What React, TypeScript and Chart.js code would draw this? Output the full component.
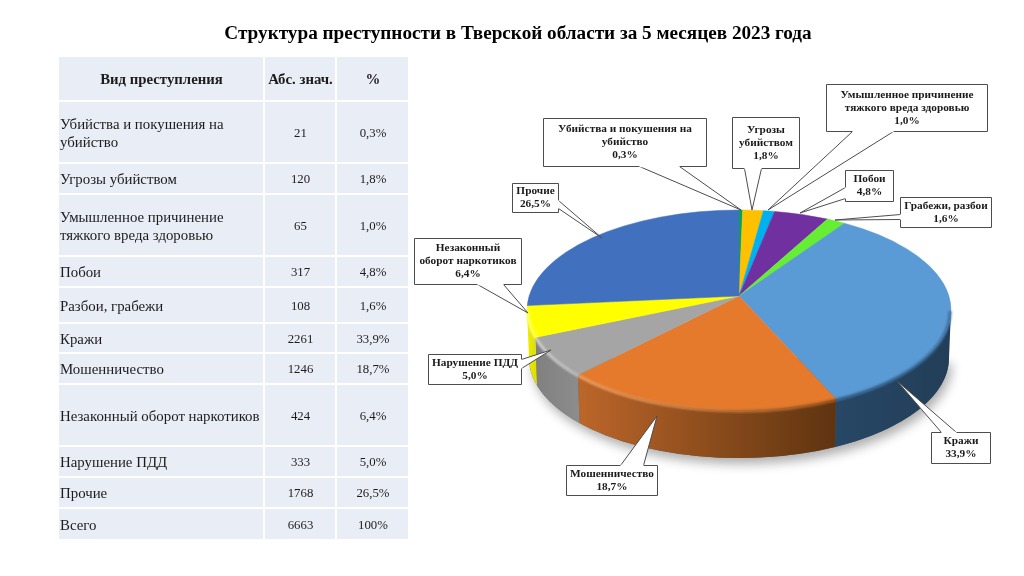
import React, { useEffect, useRef } from "react";
import { Chart, registerables } from "chart.js";

Chart.register(...registerables);

const TITLE = "Структура преступности в Тверской области за 5 месяцев 2023 года";
const TABLE_HEAD = ["Вид преступления", "Абс. знач.", "%"];
const crimeNames = [
  "Убийства и покушения на убийство",
  "Угрозы убийством",
  "Умышленное причинение тяжкого вреда здоровью",
  "Побои",
  "Разбои, грабежи",
  "Кражи",
  "Мошенничество",
  "Незаконный оборот наркотиков",
  "Нарушение ПДД",
  "Прочие",
  "Всего",
];
const crimeCounts = [21, 120, 65, 317, 108, 2261, 1246, 424, 333, 1768, 6663];
const crimeShares = ["0,3%", "1,8%", "1,0%", "4,8%", "1,6%", "33,9%", "18,7%", "6,4%", "5,0%", "26,5%", "100%"];

const sliceLabels = [
  ["Убийства и покушения на", "убийство"],
  ["Угрозы", "убийством"],
  ["Умышленное причинение", "тяжкого вреда здоровью"],
  ["Побои"],
  ["Грабежи, разбои"],
  ["Кражи"],
  ["Мошенничество"],
  ["Незаконный", "оборот наркотиков"],
  ["Нарушение ПДД"],
  ["Прочие"],
];
const sliceValues = [21, 120, 65, 317, 108, 2261, 1246, 424, 333, 1768];
const sliceShares = ["0,3%", "1,8%", "1,0%", "4,8%", "1,6%", "33,9%", "18,7%", "6,4%", "5,0%", "26,5%"];
const sliceColors = ["#00A651", "#FFC000", "#00B0F0", "#7030A0", "#66EE33", "#5B9BD5", "#E57A2C", "#A5A5A5", "#FFFF00", "#4170BE"];
const wallLeft = ["#006030", "#b08500", "#007aa8", "#4e2270", "#46a624", "#274766", "#BC662A", "#808080", "#EDED00", "#2c4d85"];
const wallRight = ["#006030", "#b08500", "#007aa8", "#4e2270", "#46a624", "#223E58", "#5E3410", "#8C8C8C", "#E0E000", "#2c4d85"];
const rimLeft = ["#00A651", "#FFC000", "#00B0F0", "#7030A0", "#66EE33", "#3F6F9C", "#F2A264", "#CFCFCF", "#FFFF66", "#4170BE"];
const rimRight = ["#00A651", "#FFC000", "#00B0F0", "#7030A0", "#66EE33", "#3F6F9C", "#A85A20", "#BDBDBD", "#FFFF66", "#4170BE"];

// layout of the table (px)
const colWidths = [206, 72, 73];
const rowHeights = [45, 62, 31, 62, 31, 36, 30, 31, 62, 31, 31, 32];

// pie geometry (px)
const PIE = { cx: 739, cy: 310, rx: 212, ry: 100, tilt: -0.14, wallCy: 358, wallRx: 210, wallRy: 100 };

// label box [left, top, right, bottom], tail base two points, tail tip
const callouts = [
  { box: [543, 118, 706, 166], a: [639, 166], b: [679, 166], tip: [741, 210] },
  { box: [732, 117, 799, 168], a: [744, 168], b: [761, 168], tip: [752, 210] },
  { box: [826, 84, 987, 131], a: [852, 131], b: [893, 131], tip: [768, 210] },
  { box: [845, 170, 893, 201], a: [845, 187], b: [845, 198], tip: [800, 213] },
  { box: [900, 197, 991, 227], a: [900, 214], b: [900, 219], tip: [835, 220] },
  { box: [931, 432, 990, 463], a: [941, 432], b: [956, 432], tip: [897, 381] },
  { box: [566, 465, 657, 495], a: [620, 465], b: [643, 465], tip: [657, 416] },
  { box: [414, 238, 521, 284], a: [477, 284], b: [503, 284], tip: [528, 313] },
  { box: [428, 354, 521, 384], a: [521, 359], b: [521, 368], tip: [551, 350] },
  { box: [512, 183, 558, 212], a: [558, 200], b: [558, 208], tip: [602, 238] },
];

const SERIF = '"Liberation Serif", "Times New Roman", serif';

// The element angle, seen through the tilt of the pie, as an angle on the drawn ellipse.
function tiltedAngle(angle: number) {
  const u = Math.cos(angle);
  const v = Math.sin(angle);
  const t = PIE.tilt;
  const d = 1 + t * v;
  return Math.atan2((v + t) / d, (u * Math.sqrt(1 - t * t)) / d);
}

function unwrap(a: number, ref: number) {
  let r = a;
  while (r < ref) r += Math.PI * 2;
  return r;
}

const pie3d = {
  id: "pie3d",
  beforeDatasetsDraw(chart: any) {
    const ctx = chart.ctx;
    const arcs = chart.getDatasetMeta(0).data;
    const spans = arcs.map((el: any) => {
      const s = tiltedAngle(el.startAngle);
      return [s, unwrap(tiltedAngle(el.endAngle), s)];
    });

    ctx.save();
    // soft ground shadow
    ctx.save();
    ctx.shadowColor = "rgba(0,0,0,0.32)";
    ctx.shadowBlur = 11;
    ctx.shadowOffsetX = 3;
    ctx.shadowOffsetY = 6;
    ctx.fillStyle = "#555";
    ctx.beginPath();
    ctx.ellipse(PIE.cx, PIE.wallCy, PIE.wallRx, PIE.wallRy, 0, 0, Math.PI);
    ctx.fill();
    ctx.restore();

    // walls of the front half
    spans.forEach(([s, e]: number[], i: number) => {
      for (const shift of [-Math.PI * 2, 0, Math.PI * 2]) {
        const from = Math.max(s + shift, 0);
        const to = Math.min(e + shift, Math.PI);
        if (to <= from) continue;
        const xa = PIE.cx + PIE.rx * Math.cos(from);
        const xb = PIE.cx + PIE.rx * Math.cos(to);
        const g = ctx.createLinearGradient(Math.min(xa, xb), 0, Math.max(xa, xb), 0);
        g.addColorStop(0, wallLeft[i]);
        g.addColorStop(1, wallRight[i]);
        ctx.fillStyle = g;
        ctx.beginPath();
        ctx.ellipse(PIE.cx, PIE.cy, PIE.rx, PIE.ry, 0, from, to);
        ctx.ellipse(PIE.cx, PIE.wallCy, PIE.wallRx, PIE.wallRy, 0, to, from, true);
        ctx.closePath();
        ctx.fill();
      }
    });

    // top faces, meeting at the tilted centre
    const apexY = PIE.cy + PIE.ry * PIE.tilt;
    spans.forEach(([s, e]: number[], i: number) => {
      ctx.fillStyle = sliceColors[i];
      ctx.strokeStyle = sliceColors[i];
      ctx.lineWidth = 0.5;
      ctx.beginPath();
      ctx.moveTo(PIE.cx, apexY);
      ctx.ellipse(PIE.cx, PIE.cy, PIE.rx, PIE.ry, 0, s, e);
      ctx.closePath();
      ctx.fill();
      ctx.stroke();
    });

    // soft rim along the front edge
    ctx.save();
    ctx.filter = "blur(1px)";
    ctx.lineWidth = 3;
    spans.forEach(([s, e]: number[], i: number) => {
      for (const shift of [-Math.PI * 2, 0, Math.PI * 2]) {
        const from = Math.max(s + shift, 0);
        const to = Math.min(e + shift, Math.PI);
        if (to <= from) continue;
        const xa = PIE.cx + PIE.rx * Math.cos(from);
        const xb = PIE.cx + PIE.rx * Math.cos(to);
        const g = ctx.createLinearGradient(Math.min(xa, xb), 0, Math.max(xa, xb), 0);
        g.addColorStop(0, rimLeft[i]);
        g.addColorStop(1, rimRight[i]);
        ctx.strokeStyle = g;
        ctx.beginPath();
        ctx.ellipse(PIE.cx, PIE.cy + 1, PIE.rx - 1, PIE.ry, 0, from, to);
        ctx.stroke();
      }
    });
    ctx.restore();
    ctx.restore();
    return false;
  },
  afterDraw(chart: any) {
    const ctx = chart.ctx;
    ctx.save();
    callouts.forEach((c, i) => {
      const [l, t, r, b] = c.box;
      ctx.fillStyle = "#fff";
      ctx.strokeStyle = "#4d4d4d";
      ctx.lineWidth = 1;
      ctx.beginPath();
      ctx.rect(l + 0.5, t + 0.5, r - l, b - t);
      ctx.fill();
      ctx.stroke();
      ctx.beginPath();
      ctx.moveTo(c.a[0] + 0.5, c.a[1] + 0.5);
      ctx.lineTo(c.tip[0], c.tip[1]);
      ctx.lineTo(c.b[0] + 0.5, c.b[1] + 0.5);
      ctx.fill();
      ctx.stroke();
      // hide the box border under the tail's mouth
      ctx.beginPath();
      ctx.moveTo(c.a[0] + 0.5, c.a[1] + 0.5);
      ctx.lineTo(c.b[0] + 0.5, c.b[1] + 0.5);
      ctx.strokeStyle = "#fff";
      ctx.lineWidth = 1.6;
      ctx.stroke();

      const lines = [...sliceLabels[i], sliceShares[i]];
      const lh = 13;
      const mid = (l + r) / 2 + 0.5;
      const top = (t + b) / 2 + 0.5 - (lines.length * lh) / 2 + lh / 2;
      ctx.fillStyle = "#1a1a1a";
      ctx.font = `bold 11.3px ${SERIF}`;
      ctx.textAlign = "center";
      ctx.textBaseline = "middle";
      lines.forEach((line, k) => ctx.fillText(line, mid, top + k * lh));
    });
    ctx.restore();
  },
};

export default function App() {
  const ref = useRef<HTMLCanvasElement>(null);
  useEffect(() => {
    document.body.style.margin = "0";
    const chart = new Chart(ref.current as HTMLCanvasElement, {
      type: "pie",
      data: {
        labels: sliceLabels.map((l) => l.join(" ")),
        datasets: [{ data: sliceValues, backgroundColor: sliceColors, borderWidth: 0 }],
      },
      options: {
        responsive: false,
        animation: false,
        rotation: 0,
        plugins: { legend: { display: false }, tooltip: { enabled: false }, title: { display: false } },
      },
      plugins: [pie3d],
    } as any);
    return () => chart.destroy();
  }, []);

  const cellBase: React.CSSProperties = {
    background: "#E9EDF5",
    border: "2px solid #fff",
    padding: "2px 0 0 1px",
    boxSizing: "border-box",
    color: "#1c1c1c",
  };

  return (
    <div style={{ position: "relative", width: 1024, height: 576, background: "#fff", overflow: "hidden", fontFamily: SERIF }}>
      <canvas ref={ref} width={1024} height={576} style={{ position: "absolute", left: 0, top: 0 }} />
      <div style={{ position: "absolute", left: 6, width: 1024, top: 21, textAlign: "center", fontWeight: 700, fontSize: 19.2, lineHeight: "24px", color: "#000" }}>
        {TITLE}
      </div>
      <table style={{ position: "absolute", left: 57, top: 55, width: 351, borderCollapse: "collapse", tableLayout: "fixed", fontSize: 14.85 }}>
        <colgroup>
          {colWidths.map((w, i) => (
            <col key={i} style={{ width: w }} />
          ))}
        </colgroup>
        <tbody>
          <tr style={{ height: rowHeights[0] }}>
            {TABLE_HEAD.map((h) => (
              <td key={h} style={{ ...cellBase, fontWeight: 700, fontSize: 14.8, textAlign: "center" }}>
                {h}
              </td>
            ))}
          </tr>
          {crimeNames.map((name, i) => (
            <tr key={name} style={{ height: rowHeights[i + 1] }}>
              <td style={{ ...cellBase, lineHeight: "18.5px" }}>{name}</td>
              <td style={{ ...cellBase, textAlign: "center", fontSize: 12.8 }}>{crimeCounts[i]}</td>
              <td style={{ ...cellBase, textAlign: "center", fontSize: 12.8 }}>{crimeShares[i]}</td>
            </tr>
          ))}
        </tbody>
      </table>
    </div>
  );
}
